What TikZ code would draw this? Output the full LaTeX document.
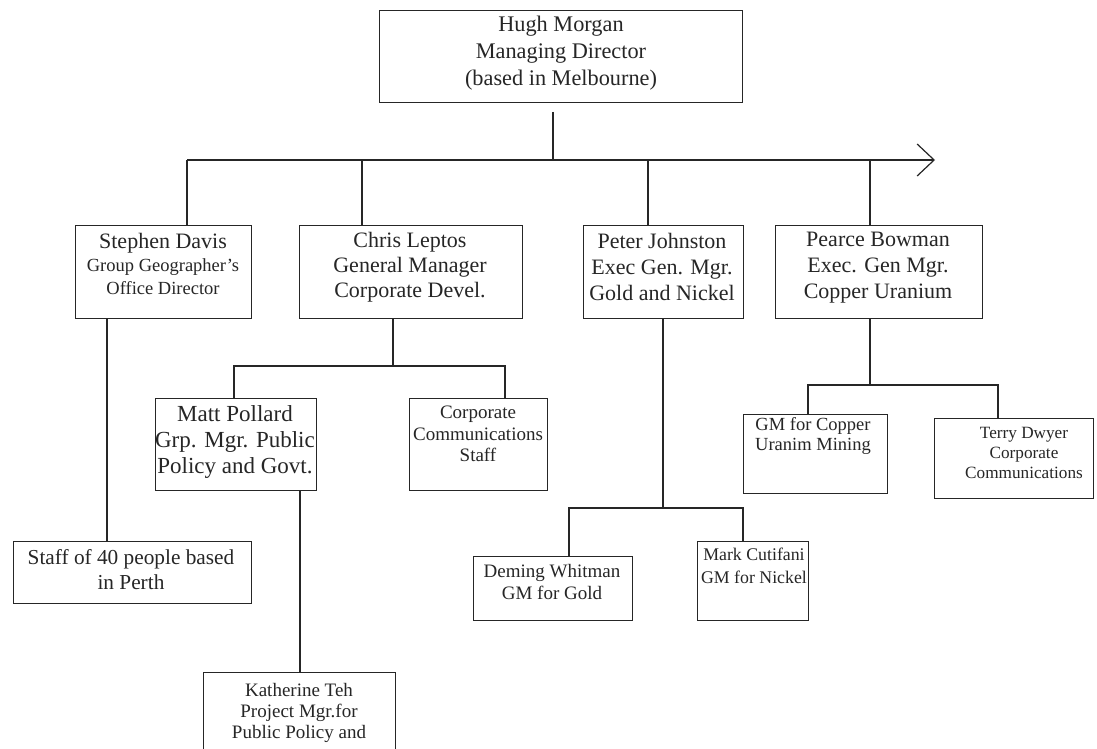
\documentclass[tikz,border=0pt]{standalone}
\usepackage{fontspec}
\setmainfont{Liberation Serif}
\usetikzlibrary{arrows.meta}
\tikzset{
  box/.style={draw=black!85, line width=1.2pt, rectangle, inner sep=0pt, anchor=north west},
  txt/.style={text=black!85, align=center, inner sep=0pt, anchor=center},
  conn/.style={draw=black!85, line width=1.2pt},
}
\begin{document}
\begin{tikzpicture}[x=1pt,y=-1pt]
\clip (0,0) rectangle (1097,749);
\fill[white] (0,0) rectangle (1097,749);

% boxes
\node[box, minimum width=363, minimum height=92] (hm) at (379,10) {};
\node[box, minimum width=176, minimum height=93] (sd) at (75,225) {};
\node[box, minimum width=223, minimum height=93] (cl) at (299,225) {};
\node[box, minimum width=160, minimum height=93] (pj) at (583,225) {};
\node[box, minimum width=207, minimum height=93] (pb) at (775,225) {};
\node[box, minimum width=161, minimum height=92] (mp) at (155,398) {};
\node[box, minimum width=138, minimum height=92] (cc) at (409,398) {};
\node[box, minimum width=144, minimum height=79] (gc) at (743,414) {};
\node[box, minimum width=159, minimum height=80] (td) at (934,418) {};
\node[box, minimum width=238, minimum height=62] (st) at (13,541) {};
\node[box, minimum width=159, minimum height=64] (dw) at (473,556) {};
\node[box, minimum width=111, minimum height=79] (mc) at (697,541) {};
\node[box, minimum width=192, minimum height=100] (kt) at (203,672) {};

% texts
\node[txt, font=\fontsize{22.3}{27}\selectfont] (hm-t) at (561,53) {Hugh Morgan\\Managing Director\\(based in Melbourne)};
\node[txt, font=\fontsize{18.5}{23}\selectfont] (sd-t) at (163,264) {{\fontsize{22}{23}\selectfont Stephen Davis}\\Group Geographer's\\Office Director};
\node[txt, font=\fontsize{22}{25}\selectfont] (cl-t) at (410,267) {Chris Leptos\\General Manager\\Corporate Devel.};
\node[txt, font=\fontsize{22}{26}\selectfont] (pj-t) at (662,267) {Peter Johnston\\Exec Gen. Mgr.\\Gold and Nickel};
\node[txt, font=\fontsize{22}{26}\selectfont] (pb-t) at (878,268) {Pearce Bowman\\Exec. Gen Mgr.\\Copper Uranium};
\node[txt, font=\fontsize{23}{26}\selectfont] (mp-t) at (235,442) {Matt Pollard\\Grp. Mgr. Public\\Policy and Govt.};
\node[txt, font=\fontsize{19}{21.5}\selectfont] (cc-t) at (478,434) {Corporate\\Communications\\Staff};
\node[txt, font=\fontsize{18.5}{20}\selectfont] (gc-t) at (813,436) {GM for Copper\\Uranim Mining};
\node[txt, font=\fontsize{17.2}{20}\selectfont] (td-t) at (1024,453) {Terry Dwyer\\Corporate\\Communications};
\node[txt, font=\fontsize{21.3}{25}\selectfont] (st-t) at (131,570) {Staff of 40 people based\\in Perth};
\node[txt, font=\fontsize{19}{22}\selectfont] (dw-t) at (552,582) {Deming Whitman\\GM for Gold};
\node[txt, font=\fontsize{17.8}{23}\selectfont] (mc-t) at (754,566) {Mark Cutifani\\GM for Nickel};
\node[txt, font=\fontsize{19}{21}\selectfont] (kt-t) at (299,713) {Katherine Teh\\Project Mgr.for\\Public Policy and};

% top bus
\coordinate (hmx) at (553,112);
\coordinate (busL) at (187,160);
\coordinate (busR) at (935,160);
\coordinate (b2) at (362,160);
\coordinate (b3) at (648,160);
\coordinate (b4) at (870,160);
\draw[conn] (hmx) -- (hmx |- busL);
\draw[conn, -{Straight Barb[length=17pt,width=32pt]}] (busL) -- (busR);
\draw[conn] (busL) -- (busL |- sd.north);
\draw[conn] (b2) -- (b2 |- cl.north);
\draw[conn] (b3) -- (b3 |- pj.north);
\draw[conn] (b4) -- (b4 |- pb.north);

% Chris Leptos branch
\coordinate (c1) at (393,366);
\coordinate (c1L) at (234,366);
\coordinate (c1R) at (505,366);
\draw[conn] (c1 |- cl.south) -- (c1);
\draw[conn] (c1L |- mp.north) -- (c1L) -- (c1R) -- (c1R |- cc.north);

% Stephen Davis branch
\coordinate (s1) at (107,330);
\draw[conn] (s1 |- sd.south) -- (s1 |- st.north);

% Matt Pollard branch
\coordinate (m1) at (300,500);
\draw[conn] (m1 |- mp.south) -- (m1 |- kt.north);

% Peter Johnston branch
\coordinate (p1) at (663,508);
\coordinate (p1L) at (569,508);
\coordinate (p1R) at (743,508);
\draw[conn] (p1 |- pj.south) -- (p1);
\draw[conn] (p1L |- dw.north) -- (p1L) -- (p1R) -- (p1R |- mc.north);

% Pearce Bowman branch
\coordinate (q1) at (870,385);
\coordinate (q1L) at (808,385);
\coordinate (q1R) at (998,385);
\draw[conn] (q1 |- pb.south) -- (q1);
\draw[conn] (q1L |- gc.north) -- (q1L) -- (q1R) -- (q1R |- td.north);
\end{tikzpicture}
\end{document}
